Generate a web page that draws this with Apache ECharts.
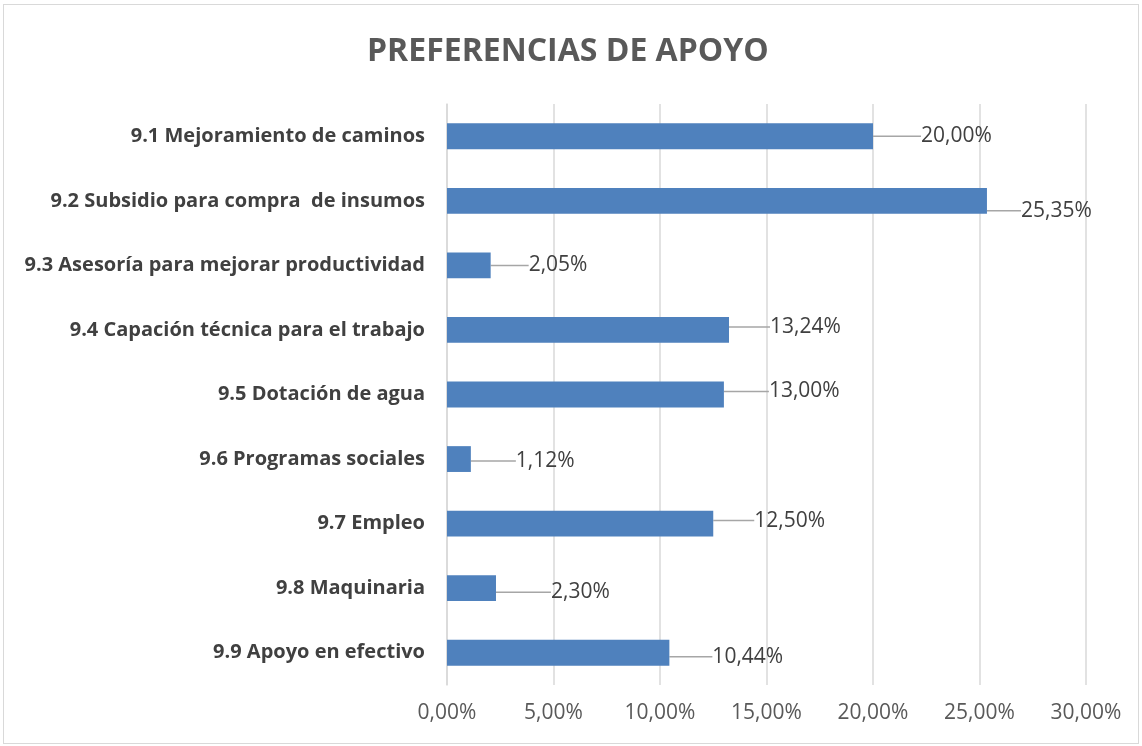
<!DOCTYPE html>
<html>
<head>
<meta charset="utf-8">
<script src="https://cdn.jsdelivr.net/npm/echarts@6/dist/echarts.min.js"></script>
<style>
html, body { margin: 0; padding: 0; background: #fff; }
#main { position: absolute; left: 3px; top: 4px; width: 1136px; height: 740px; border: 1px solid #d9d9d9; box-sizing: border-box; }
</style>
</head>
<body>
<div id="main"></div>
<script>
//categories top to bottom
var categories = [
    '9.1 Mejoramiento de caminos',
    '9.2 Subsidio para compra  de insumos',
    '9.3 Asesoría para mejorar productividad',
    '9.4 Capación técnica para el trabajo',
    '9.5 Dotación de agua',
    '9.6 Programas sociales',
    '9.7 Empleo',
    '9.8 Maquinaria',
    '9.9 Apoyo en efectivo'
];
var values = [20.00, 25.35, 2.05, 13.24, 13.00, 1.12, 12.50, 2.30, 10.44];
var xTicks = [0, 5, 10, 15, 20, 25, 30];

//label shifts (leader lines), same order as categories
var labelDx = [43, 29, 33, 36, 40, 40, 36, 50, 38];
var labelDy = [0, 10, 0, -3, -3, 2, -3, 4, 4];

var chart = echarts.init(document.getElementById('main'));

function fmt(v) {
    return v.toFixed(2).replace('.', ',') + '%';
}

var option = {
    animation: false,
    title: {
        text: 'PREFERENCIAS DE APOYO',
        left: 358,
        top: 26,
        textStyle: {
            fontFamily: 'Open Sans',
            fontWeight: 'bold',
            fontSize: 32,
            color: '#595959'
        }
    },
    grid: {
        left: 443,
        right: 52,
        top: 99,
        bottom: 58
    },
    xAxis: {
        type: 'value',
        min: xTicks[0],
        max: xTicks[xTicks.length - 1],
        interval: 5,
        axisLine: { show: false },
        axisTick: { show: false },
        splitLine: { lineStyle: { color: '#d9d9d9', width: 1.5 } },
        axisLabel: {
            formatter: function (v) { return fmt(v); },
            fontFamily: 'Open Sans',
            fontSize: 21,
            color: '#595959',
            margin: 18
        }
    },
    yAxis: {
        type: 'category',
        inverse: true,
        data: categories,
        axisLine: { show: true, lineStyle: { color: '#d9d9d9', width: 1.5 } },
        axisTick: { show: false },
        axisLabel: {
            fontFamily: 'Open Sans',
            fontWeight: 'bold',
            fontSize: 20,
            color: '#404040',
            margin: 22
        }
    },
    series: [{
        type: 'bar',
        data: values,
        barWidth: '40%',
        itemStyle: { color: '#4f81bd' },
        label: {
            show: true,
            position: 'right',
            distance: 5,
            formatter: function (p) { return fmt(p.value); },
            fontFamily: 'Open Sans',
            fontSize: 21,
            color: '#404040'
        },
        labelLine: {
            show: true,
            lineStyle: { color: '#a6a6a6', width: 1.5 }
        },
        labelLayout: function (p) {
            return { dx: labelDx[p.dataIndex], dy: labelDy[p.dataIndex] };
        }
    }]
};

chart.setOption(option);
</script>
</body>
</html>
